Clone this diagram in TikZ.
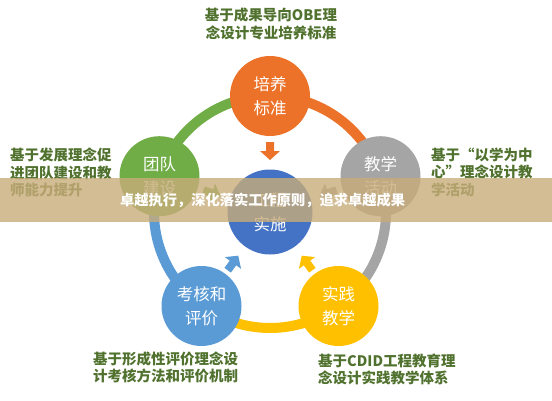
\documentclass[tikz,border=0pt]{standalone}
\usepackage{fontspec}
\newfontfamily\cjk{Noto Sans CJK SC}
\definecolor{corange}{RGB}{236,114,42}
\definecolor{cgray}{RGB}{165,165,165}
\definecolor{cgreen}{RGB}{112,173,71}
\definecolor{cblue}{RGB}{91,155,213}
\definecolor{cyellow}{RGB}{255,192,0}
\definecolor{ccenter}{RGB}{68,114,196}
\definecolor{clabel}{RGB}{80,114,46}
\definecolor{cbanner}{RGB}{200,172,122}
\tikzset{
  outer/.style={circle, minimum size=80pt, inner sep=0pt, text=white, align=center,
    font=\cjk\fontsize{16.5}{24}\selectfont},
  lbl/.style={text=clabel, inner sep=0pt, font=\cjk\bfseries\fontsize{14.5}{17.5}\selectfont},
  ringseg/.style={line width=10pt},
  inarrow/.pic={\fill (-9,-4) -- (0,-4) -- (0,-10) -- (9,0) -- (0,10) -- (0,4) -- (-9,4) -- cycle;}
}
\begin{document}
\begin{tikzpicture}[x=1pt,y=1pt]
\useasboundingbox (0,0) rectangle (552,400);
\coordinate (C) at (270,188);
% ring segments
\foreach \a/\col in {90/corange, 18/cgray, -54/cyellow, -126/cblue, 162/cgreen}
  \draw[ringseg, \col] (C) ++(\a:116pt) arc[start angle=\a, end angle=\a-72, radius=116pt];
% outer circles
\node[outer, fill=corange] (n1) at (270,304) {培养\\标准};
\node[outer, fill=cgray]   (n2) at (380.5,223.8) {教学\\活动};
\node[outer, fill=cyellow] (n3) at (338.5,94) {实践\\教学};
\node[outer, fill=cblue]   (n4) at (201.5,94) {考核和\\评价};
\node[outer, fill=cgreen]  (n5) at (159.5,223.8) {团队\\建设};
% center
\node[outer, fill=ccenter, minimum size=85pt] (ctr) at (C) {工程\\实施};
% arrows toward center
\pic[fill=corange, rotate=270] at ([shift={(90:61pt)}]C) {inarrow};
\pic[fill=cgray, rotate=198] at ([shift={(18:61pt)}]C) {inarrow};
\pic[fill=cyellow, rotate=126] at ([shift={(-54:63pt)}]C) {inarrow};
\pic[fill=cblue, rotate=54] at ([shift={(-126:63pt)}]C) {inarrow};
\pic[fill=cgreen, rotate=-18] at ([shift={(162:61pt)}]C) {inarrow};
% labels
\node[lbl, align=center] (l1) at (271,376) {基于成果导向OBE理\\念设计专业培养标准};
\node[lbl, align=left, anchor=west] (l5) at (10,227.5) {基于发展理念促\\进团队建设和教\\师能力提升};
\node[lbl, align=left, anchor=west] (l2) at (431,228) {基于“以学为中\\心”理念设计教\\学活动};
\node[lbl, align=left, anchor=west] (l4) at (93,32.5) {基于形成性评价理念设\\计考核方法和评价机制};
\node[lbl, align=left, anchor=west] (l3) at (318,30.5) {基于CDID工程教育理\\念设计实践教学体系};
% banner
\node[fill=cbanner, fill opacity=0.8, minimum width=552pt, minimum height=44pt, inner sep=0pt] (banner) at (276,200) {};
\node[text=white, inner sep=0pt, font=\cjk\bfseries\fontsize{14.25}{16}\selectfont] (btext) at (262.5,199.5) {卓越执行，深化落实工作原则，追求卓越成果};
\end{tikzpicture}
\end{document}
